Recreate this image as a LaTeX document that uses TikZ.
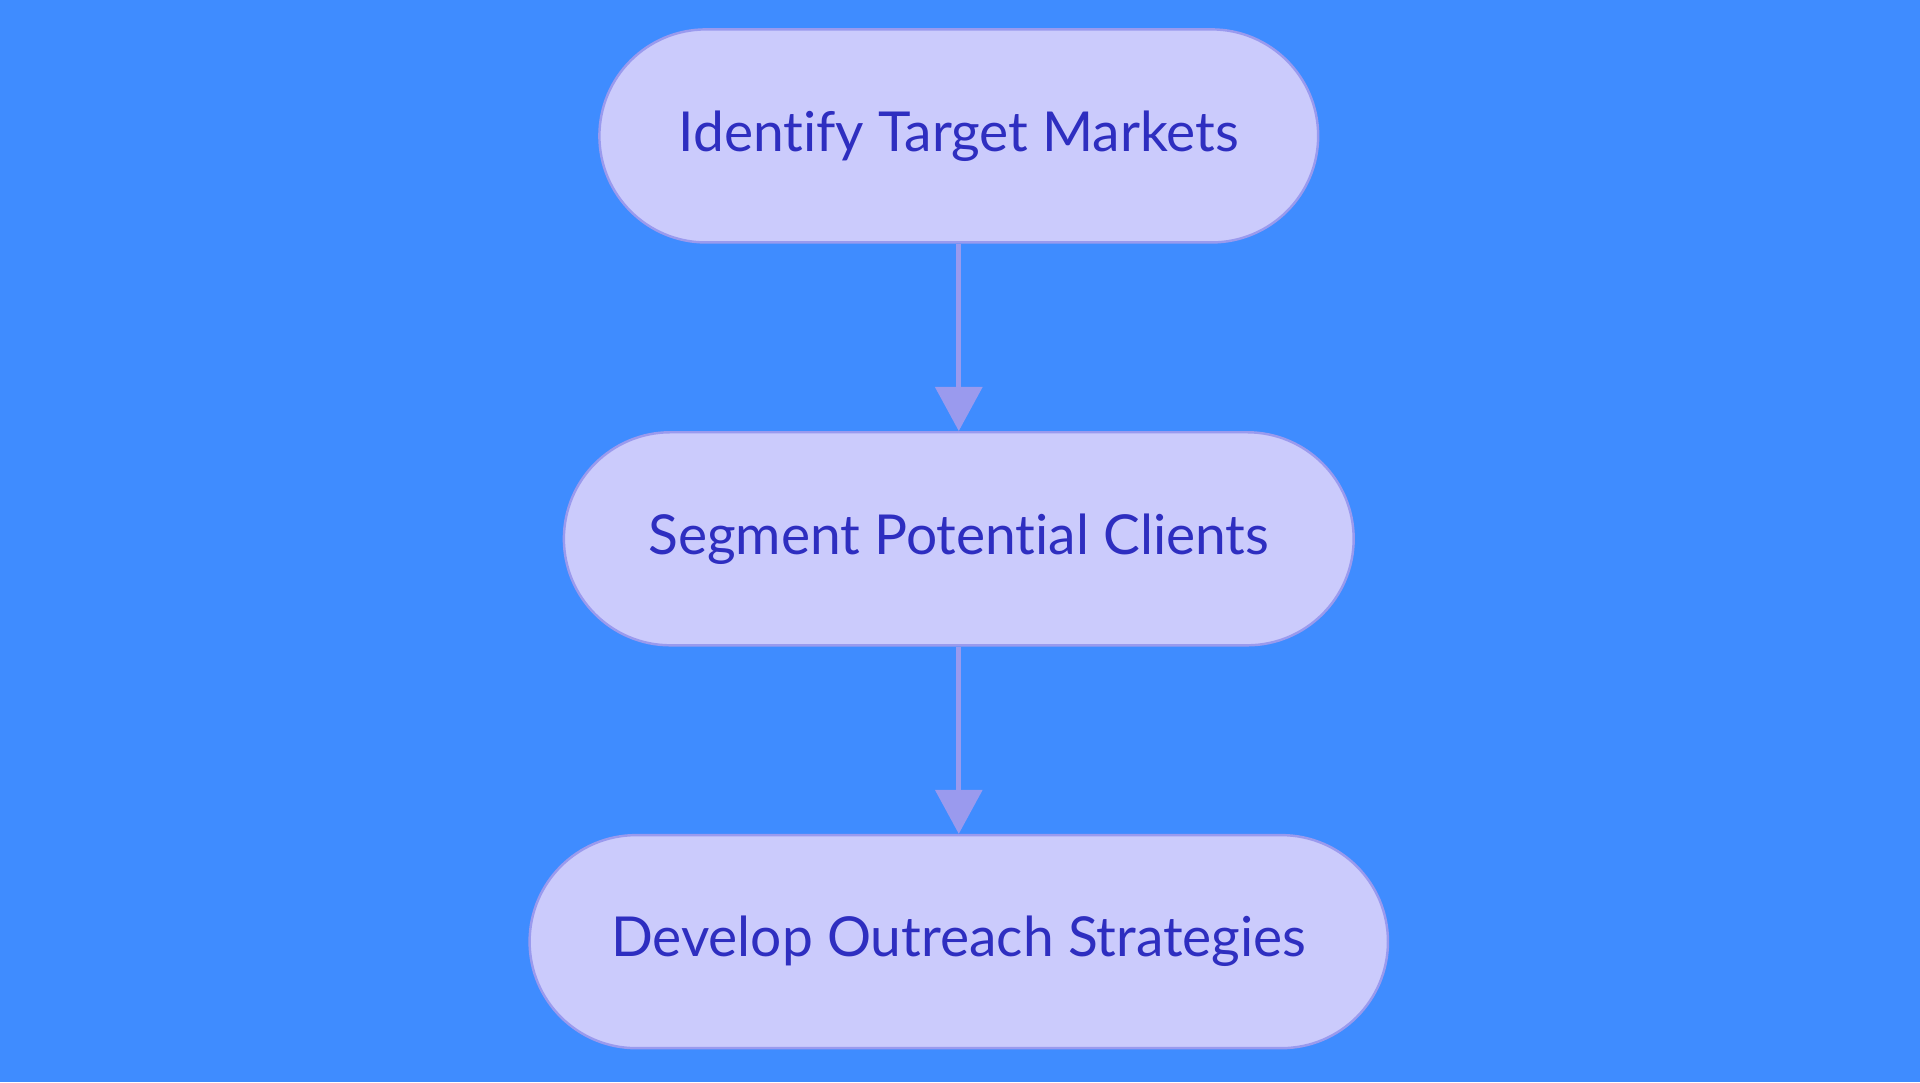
\documentclass[tikz,border=0pt]{standalone}
\usepackage{fontspec}
\setmainfont{Lato}[RawFeature=-liga]
\usetikzlibrary{arrows.meta}
\definecolor{bg}{HTML}{3F8CFF}
\definecolor{nf}{HTML}{CBCBFC}
\definecolor{nd}{HTML}{9A9AEE}
\definecolor{tx}{HTML}{2E2EC0}
\begin{document}
\begin{tikzpicture}[x=1pt,y=-1pt,
 box/.style={draw=nd,fill=nf,line width=2pt,rounded corners=87pt,minimum height=174pt,text=tx,font=\fontsize{45}{54}\selectfont,inner sep=0pt},
 arr/.style={draw=nd,line width=4pt,-{Triangle[length=36pt,width=38pt]}}]
\fill[bg] (0,0) rectangle (1568,884);
\node[box,minimum width=587pt] (a) at (783,111) {Identify Target Markets};
\node[box,minimum width=645pt] (b) at (783,440) {Segment Potential Clients};
\node[box,minimum width=701pt] (c) at (783,769) {Develop Outreach Strategies};
\draw[arr] (a) -- (b);
\draw[arr] (b) -- (c);
\end{tikzpicture}
\end{document}
